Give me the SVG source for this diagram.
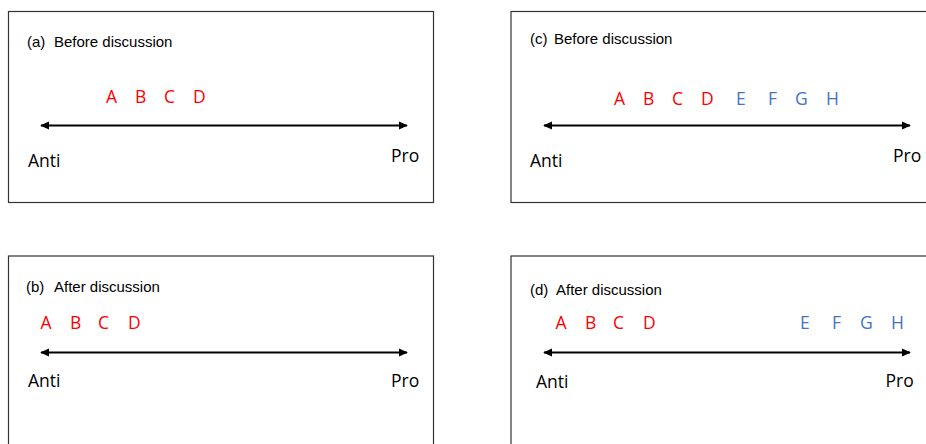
<svg xmlns="http://www.w3.org/2000/svg" width="926" height="444" viewBox="0 0 926 444">
<style>
.box{fill:#fff;stroke:#333;stroke-width:1.2}
.title{font-family:"Liberation Sans",Arial,sans-serif;font-size:15px;fill:#000}
.end{font-family:"Open Sans","DejaVu Sans",sans-serif;font-size:17.5px;fill:#000}
.r{font-family:"Open Sans","DejaVu Sans",sans-serif;font-size:17.5px;fill:#ff0000}
.b{font-family:"Open Sans","DejaVu Sans",sans-serif;font-size:17.5px;fill:#4472c4}
.axis{stroke:#000;stroke-width:2;fill:none;marker-start:url(#ah);marker-end:url(#ah)}
</style>
<defs>
<marker id="ah" markerUnits="userSpaceOnUse" viewBox="0 0 10 10" refX="9" refY="5" markerWidth="9" markerHeight="9" orient="auto-start-reverse">
<path d="M0,0.5 L10,5 L0,9.5 Z" fill="#000"/>
</marker>
</defs>
<rect width="926" height="444" fill="#fff"/>

<g id="panel-a">
<rect class="box" x="8.5" y="11.5" width="425" height="191"/>
<text class="title" x="27" y="47">(a)</text>
<text class="title" x="54" y="47">Before discussion</text>
<text class="r" x="106" y="103">A</text>
<text class="r" x="135" y="103">B</text>
<text class="r" x="164" y="103">C</text>
<text class="r" x="193" y="103">D</text>
<text class="end" x="28" y="167">Anti</text>
<text class="end" x="391" y="162">Pro</text>
</g>

<g id="panel-c">
<rect class="box" x="511" y="11.5" width="430" height="191"/>
<text class="title" x="530" y="44">(c)</text>
<text class="title" x="554" y="44">Before discussion</text>
<text class="r" x="614" y="105">A</text>
<text class="r" x="643" y="105">B</text>
<text class="r" x="672" y="105">C</text>
<text class="r" x="701" y="105">D</text>
<text class="b" x="736" y="105">E</text>
<text class="b" x="768" y="105">F</text>
<text class="b" x="795" y="105">G</text>
<text class="b" x="826" y="105">H</text>
<text class="end" x="530" y="167">Anti</text>
<text class="end" x="893" y="162">Pro</text>
</g>

<g id="panel-b">
<rect class="box" x="8.5" y="256" width="425" height="200"/>
<text class="title" x="26" y="292">(b)</text>
<text class="title" x="54" y="292">After discussion</text>
<text class="r" x="40.5" y="329">A</text>
<text class="r" x="70" y="329">B</text>
<text class="r" x="98" y="329">C</text>
<text class="r" x="128" y="329">D</text>
<text class="end" x="28" y="387">Anti</text>
<text class="end" x="391" y="387">Pro</text>
</g>

<g id="panel-d">
<rect class="box" x="511" y="256" width="430" height="200"/>
<text class="title" x="530" y="295">(d)</text>
<text class="title" x="556" y="295">After discussion</text>
<text class="r" x="555.5" y="329">A</text>
<text class="r" x="585" y="329">B</text>
<text class="r" x="613" y="329">C</text>
<text class="r" x="643" y="329">D</text>
<text class="b" x="800" y="329">E</text>
<text class="b" x="832" y="329">F</text>
<text class="b" x="860" y="329">G</text>
<text class="b" x="891" y="329">H</text>
<text class="end" x="536" y="388">Anti</text>
<text class="end" x="885.5" y="387">Pro</text>
</g>

<g id="connectors">
<line class="axis" x1="41" y1="125.5" x2="407" y2="125.5"/>
<line class="axis" x1="544" y1="125.5" x2="910" y2="125.5"/>
<line class="axis" x1="41" y1="352.5" x2="407" y2="352.5"/>
<line class="axis" x1="544" y1="352.5" x2="910" y2="352.5"/>
</g>
</svg>
